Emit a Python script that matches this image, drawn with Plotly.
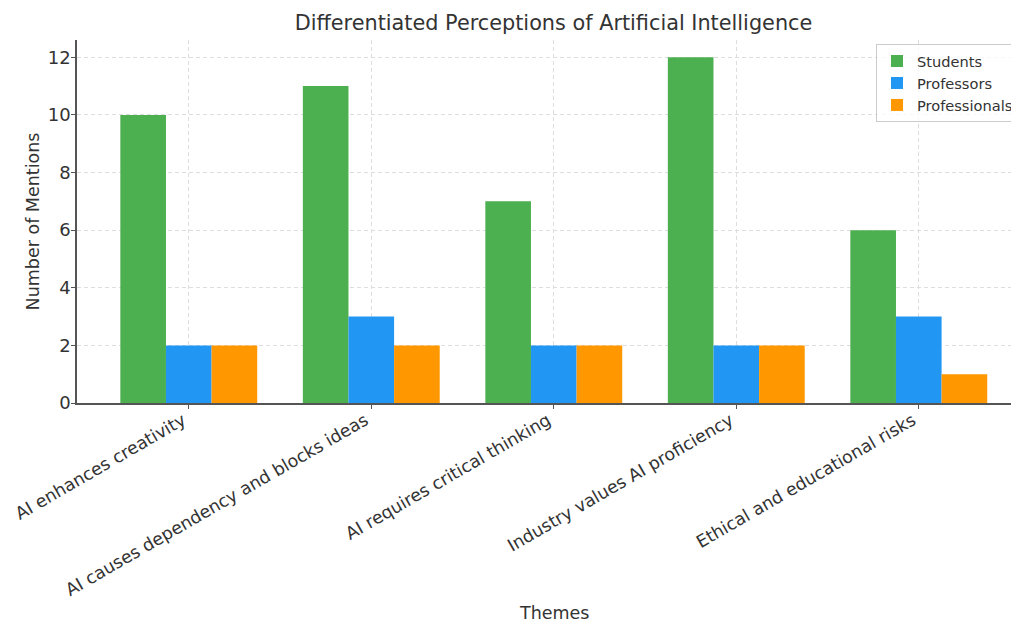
import plotly.graph_objects as go

themes = ["AI enhances creativity", "AI causes dependency and blocks ideas",
          "AI requires critical thinking", "Industry values AI proficiency",
          "Ethical and educational risks"]
students = [10, 11, 7, 12, 6]
professors = [2, 3, 2, 2, 3]
professionals = [2, 2, 2, 2, 1]

# page body has an 8px offset; compensate
OFF = 8
W, H = 1019, 621
L = 77 - OFF
T = 40 - OFF
bottom_fig = 403 - OFF
B = H - bottom_fig
pw = W - L
ph = H - T - B
step = 182.5
xmax = -0.6125 + pw / step

fig = go.Figure()
for name, vals, col in [("Students", students, "#4CAF50"),
                        ("Professors", professors, "#2196F3"),
                        ("Professionals", professionals, "#FF9800")]:
    fig.add_trace(go.Bar(x=themes, y=vals, name=name, marker_color=col,
                         marker_line_width=0))

txt = "#333333"
fig.update_layout(
    width=W, height=H,
    margin=dict(l=L, r=0, t=T, b=B, autoexpand=False),
    plot_bgcolor="white", paper_bgcolor="white",
    font=dict(family="DejaVu Sans", color=txt, size=17),
    barmode="group", bargap=0.25, bargroupgap=0,
    title=dict(text="Differentiated Perceptions of Artificial Intelligence",
               x=(553.5 - OFF) / W, xref="container", xanchor="center",
               y=1 - (23 - OFF) / H, yref="container", yanchor="middle",
               font=dict(size=20.8, color=txt)),
    legend=dict(x=(876 - OFF - L) / pw, y=1 - (44 - OFF - T) / ph,
                xanchor="left", yanchor="top",
                bordercolor="#cccccc", borderwidth=1, bgcolor="rgba(255,255,255,0.8)",
                font=dict(size=14.6, color=txt)),
    xaxis=dict(range=[-0.6125, xmax], showline=True, linecolor="#555555", linewidth=1.5,
               ticks="outside", ticklen=4, tickcolor="#555555", tickangle=-30,
               showgrid=True, gridcolor="#dddddd", griddash="4px,3px", gridwidth=1,
               tickfont=dict(size=17.4), automargin=False,
               ticklabelshift=-6, ticklabelstandoff=-5),
    yaxis=dict(range=[0, 12.6], showline=True, linecolor="#555555", linewidth=1.5,
               ticks="outside", ticklen=4, tickcolor="#555555", dtick=2,
               showgrid=True, gridcolor="#dddddd", griddash="4px,3px", gridwidth=1,
               zeroline=False, tickfont=dict(size=18), automargin=False,
               ticklabelstandoff=-3,
               title=dict(text="Number of Mentions", font=dict(size=17.5), standoff=4)),
    annotations=[dict(text="Themes", xref="paper", yref="paper",
                      x=(553.5 - OFF - L) / pw, y=(bottom_fig - (613 - OFF)) / ph,
                      xanchor="center", yanchor="middle", showarrow=False,
                      font=dict(size=17.5, color=txt))],
)
fig.write_html("out.html")
